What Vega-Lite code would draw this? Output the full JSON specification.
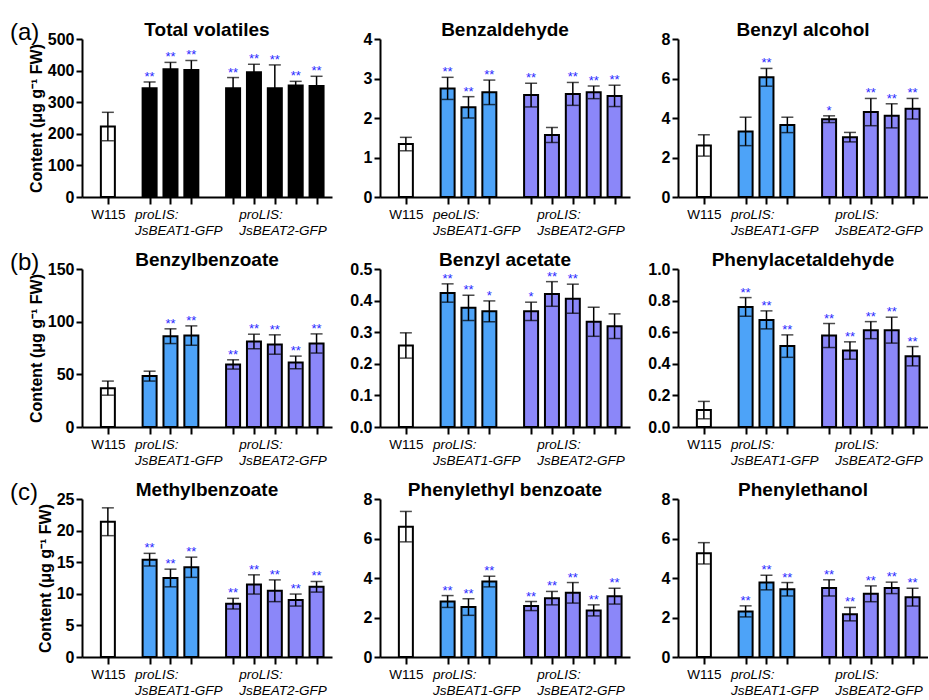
{
  "$schema": "https://vega.github.io/schema/vega-lite/v6.json",
  "padding": {"left": 10, "top": 21, "right": 0, "bottom": 0},
  "datasets": {
    "d": [
      {"compound": "Total volatiles", "pos": 0, "mean": 223, "lo": 178, "hi": 268, "sig": ""},
      {"compound": "Total volatiles", "pos": 2, "mean": 344, "lo": 324, "hi": 364, "sig": "**"},
      {"compound": "Total volatiles", "pos": 3, "mean": 404, "lo": 382, "hi": 426, "sig": "**"},
      {"compound": "Total volatiles", "pos": 4, "mean": 402, "lo": 372, "hi": 432, "sig": "**"},
      {"compound": "Total volatiles", "pos": 6, "mean": 344, "lo": 310, "hi": 378, "sig": "**"},
      {"compound": "Total volatiles", "pos": 7, "mean": 395, "lo": 370, "hi": 420, "sig": "**"},
      {"compound": "Total volatiles", "pos": 8, "mean": 344, "lo": 270, "hi": 418, "sig": "**"},
      {"compound": "Total volatiles", "pos": 9, "mean": 353, "lo": 340, "hi": 366, "sig": "**"},
      {"compound": "Total volatiles", "pos": 10, "mean": 351, "lo": 320, "hi": 382, "sig": "**"},
      {"compound": "Benzaldehyde", "pos": 0, "mean": 1.34, "lo": 1.17, "hi": 1.51, "sig": ""},
      {"compound": "Benzaldehyde", "pos": 2, "mean": 2.75, "lo": 2.47, "hi": 3.03, "sig": "**"},
      {"compound": "Benzaldehyde", "pos": 3, "mean": 2.27, "lo": 2.0, "hi": 2.54, "sig": "**"},
      {"compound": "Benzaldehyde", "pos": 4, "mean": 2.65, "lo": 2.34, "hi": 2.96, "sig": "**"},
      {"compound": "Benzaldehyde", "pos": 6, "mean": 2.58, "lo": 2.28, "hi": 2.88, "sig": "**"},
      {"compound": "Benzaldehyde", "pos": 7, "mean": 1.57, "lo": 1.38, "hi": 1.76, "sig": ""},
      {"compound": "Benzaldehyde", "pos": 8, "mean": 2.61, "lo": 2.32, "hi": 2.9, "sig": "**"},
      {"compound": "Benzaldehyde", "pos": 9, "mean": 2.65, "lo": 2.49, "hi": 2.81, "sig": "**"},
      {"compound": "Benzaldehyde", "pos": 10, "mean": 2.56, "lo": 2.29, "hi": 2.83, "sig": "**"},
      {"compound": "Benzyl alcohol", "pos": 0, "mean": 2.61, "lo": 2.07, "hi": 3.15, "sig": ""},
      {"compound": "Benzyl alcohol", "pos": 2, "mean": 3.32, "lo": 2.6, "hi": 4.04, "sig": ""},
      {"compound": "Benzyl alcohol", "pos": 3, "mean": 6.06, "lo": 5.61, "hi": 6.51, "sig": "**"},
      {"compound": "Benzyl alcohol", "pos": 4, "mean": 3.65, "lo": 3.26, "hi": 4.04, "sig": ""},
      {"compound": "Benzyl alcohol", "pos": 6, "mean": 3.94, "lo": 3.77, "hi": 4.11, "sig": "*"},
      {"compound": "Benzyl alcohol", "pos": 7, "mean": 3.03, "lo": 2.79, "hi": 3.27, "sig": ""},
      {"compound": "Benzyl alcohol", "pos": 8, "mean": 4.3, "lo": 3.61, "hi": 4.99, "sig": "**"},
      {"compound": "Benzyl alcohol", "pos": 9, "mean": 4.11, "lo": 3.5, "hi": 4.72, "sig": "**"},
      {"compound": "Benzyl alcohol", "pos": 10, "mean": 4.47, "lo": 3.95, "hi": 4.99, "sig": "**"},
      {"compound": "Benzylbenzoate", "pos": 0, "mean": 36.9, "lo": 30.2, "hi": 43.6, "sig": ""},
      {"compound": "Benzylbenzoate", "pos": 2, "mean": 48.3, "lo": 43.6, "hi": 53.0, "sig": ""},
      {"compound": "Benzylbenzoate", "pos": 3, "mean": 86.2, "lo": 79.2, "hi": 93.2, "sig": "**"},
      {"compound": "Benzylbenzoate", "pos": 4, "mean": 86.8, "lo": 77.6, "hi": 96.0, "sig": "**"},
      {"compound": "Benzylbenzoate", "pos": 6, "mean": 59.4, "lo": 55.0, "hi": 63.8, "sig": "**"},
      {"compound": "Benzylbenzoate", "pos": 7, "mean": 81.2, "lo": 74.3, "hi": 88.1, "sig": "**"},
      {"compound": "Benzylbenzoate", "pos": 8, "mean": 78.3, "lo": 69.1, "hi": 87.5, "sig": "**"},
      {"compound": "Benzylbenzoate", "pos": 9, "mean": 61.3, "lo": 55.3, "hi": 67.3, "sig": "**"},
      {"compound": "Benzylbenzoate", "pos": 10, "mean": 79.3, "lo": 70.2, "hi": 88.4, "sig": "**"},
      {"compound": "Benzyl acetate", "pos": 0, "mean": 0.258, "lo": 0.218, "hi": 0.298, "sig": ""},
      {"compound": "Benzyl acetate", "pos": 2, "mean": 0.424, "lo": 0.395, "hi": 0.453, "sig": "**"},
      {"compound": "Benzyl acetate", "pos": 3, "mean": 0.377, "lo": 0.337, "hi": 0.417, "sig": "**"},
      {"compound": "Benzyl acetate", "pos": 4, "mean": 0.366, "lo": 0.333, "hi": 0.399, "sig": "*"},
      {"compound": "Benzyl acetate", "pos": 6, "mean": 0.366, "lo": 0.337, "hi": 0.395, "sig": "*"},
      {"compound": "Benzyl acetate", "pos": 7, "mean": 0.421, "lo": 0.382, "hi": 0.46, "sig": "**"},
      {"compound": "Benzyl acetate", "pos": 8, "mean": 0.406, "lo": 0.36, "hi": 0.452, "sig": "**"},
      {"compound": "Benzyl acetate", "pos": 9, "mean": 0.333, "lo": 0.287, "hi": 0.379, "sig": ""},
      {"compound": "Benzyl acetate", "pos": 10, "mean": 0.319, "lo": 0.28, "hi": 0.358, "sig": ""},
      {"compound": "Phenylacetaldehyde", "pos": 0, "mean": 0.107, "lo": 0.052, "hi": 0.162, "sig": ""},
      {"compound": "Phenylacetaldehyde", "pos": 2, "mean": 0.76, "lo": 0.701, "hi": 0.819, "sig": "**"},
      {"compound": "Phenylacetaldehyde", "pos": 3, "mean": 0.678, "lo": 0.621, "hi": 0.735, "sig": "**"},
      {"compound": "Phenylacetaldehyde", "pos": 4, "mean": 0.512, "lo": 0.441, "hi": 0.583, "sig": "**"},
      {"compound": "Phenylacetaldehyde", "pos": 6, "mean": 0.579, "lo": 0.503, "hi": 0.655, "sig": "**"},
      {"compound": "Phenylacetaldehyde", "pos": 7, "mean": 0.484, "lo": 0.429, "hi": 0.539, "sig": "**"},
      {"compound": "Phenylacetaldehyde", "pos": 8, "mean": 0.613, "lo": 0.559, "hi": 0.667, "sig": "**"},
      {"compound": "Phenylacetaldehyde", "pos": 9, "mean": 0.613, "lo": 0.531, "hi": 0.695, "sig": "**"},
      {"compound": "Phenylacetaldehyde", "pos": 10, "mean": 0.448, "lo": 0.387, "hi": 0.509, "sig": "**"},
      {"compound": "Methylbenzoate", "pos": 0, "mean": 21.4, "lo": 19.2, "hi": 23.6, "sig": ""},
      {"compound": "Methylbenzoate", "pos": 2, "mean": 15.4, "lo": 14.4, "hi": 16.4, "sig": "**"},
      {"compound": "Methylbenzoate", "pos": 3, "mean": 12.5, "lo": 11.1, "hi": 13.9, "sig": "**"},
      {"compound": "Methylbenzoate", "pos": 4, "mean": 14.2, "lo": 12.6, "hi": 15.8, "sig": "**"},
      {"compound": "Methylbenzoate", "pos": 6, "mean": 8.44, "lo": 7.6, "hi": 9.28, "sig": "**"},
      {"compound": "Methylbenzoate", "pos": 7, "mean": 11.48, "lo": 9.96, "hi": 13.0, "sig": "**"},
      {"compound": "Methylbenzoate", "pos": 8, "mean": 10.48, "lo": 8.76, "hi": 12.2, "sig": "**"},
      {"compound": "Methylbenzoate", "pos": 9, "mean": 9.01, "lo": 8.06, "hi": 9.96, "sig": "**"},
      {"compound": "Methylbenzoate", "pos": 10, "mean": 11.11, "lo": 10.27, "hi": 11.95, "sig": "**"},
      {"compound": "Phenylethyl benzoate", "pos": 0, "mean": 6.6, "lo": 5.83, "hi": 7.37, "sig": ""},
      {"compound": "Phenylethyl benzoate", "pos": 2, "mean": 2.81, "lo": 2.51, "hi": 3.11, "sig": "**"},
      {"compound": "Phenylethyl benzoate", "pos": 3, "mean": 2.53, "lo": 2.11, "hi": 2.95, "sig": "**"},
      {"compound": "Phenylethyl benzoate", "pos": 4, "mean": 3.82, "lo": 3.55, "hi": 4.09, "sig": "**"},
      {"compound": "Phenylethyl benzoate", "pos": 6, "mean": 2.58, "lo": 2.35, "hi": 2.81, "sig": "**"},
      {"compound": "Phenylethyl benzoate", "pos": 7, "mean": 2.98, "lo": 2.64, "hi": 3.32, "sig": "**"},
      {"compound": "Phenylethyl benzoate", "pos": 8, "mean": 3.25, "lo": 2.73, "hi": 3.77, "sig": "**"},
      {"compound": "Phenylethyl benzoate", "pos": 9, "mean": 2.36, "lo": 2.08, "hi": 2.64, "sig": "**"},
      {"compound": "Phenylethyl benzoate", "pos": 10, "mean": 3.08, "lo": 2.68, "hi": 3.48, "sig": "**"},
      {"compound": "Phenylethanol", "pos": 0, "mean": 5.25, "lo": 4.71, "hi": 5.79, "sig": ""},
      {"compound": "Phenylethanol", "pos": 2, "mean": 2.31, "lo": 2.03, "hi": 2.59, "sig": "**"},
      {"compound": "Phenylethanol", "pos": 3, "mean": 3.77, "lo": 3.4, "hi": 4.14, "sig": "**"},
      {"compound": "Phenylethanol", "pos": 4, "mean": 3.43, "lo": 3.09, "hi": 3.77, "sig": "**"},
      {"compound": "Phenylethanol", "pos": 6, "mean": 3.5, "lo": 3.09, "hi": 3.91, "sig": "**"},
      {"compound": "Phenylethanol", "pos": 7, "mean": 2.17, "lo": 1.83, "hi": 2.51, "sig": "**"},
      {"compound": "Phenylethanol", "pos": 8, "mean": 3.2, "lo": 2.8, "hi": 3.6, "sig": "**"},
      {"compound": "Phenylethanol", "pos": 9, "mean": 3.5, "lo": 3.21, "hi": 3.79, "sig": "**"},
      {"compound": "Phenylethanol", "pos": 10, "mean": 3.03, "lo": 2.58, "hi": 3.48, "sig": "**"}
    ]
  },
  "data": {"name": "d"},
  "vconcat": [
    {
      "title": {"text": "(a)", "anchor": "start", "frame": "group", "fontSize": 24, "fontWeight": "normal", "dx": -72, "offset": -24},
      "spacing": 48, "bounds": "flush",
      "hconcat": [
        {
          "title": "Total volatiles", "width": 250, "height": 158,
          "transform": [{"filter": "datum.compound == 'Total volatiles'"}],
          "encoding": {"x": {"field": "pos", "type": "quantitative", "scale": {"domain": [-1, 10.5]}, "axis": {"values": [0, 2, 3, 4, 6, 7, 8, 9, 10], "title": null, "labelExpr": "datum.value == 0 ? 'W115' : datum.value == 3 ? ['proLIS:', 'JsBEAT1-GFP'] : datum.value == 8 ? ['proLIS:', 'JsBEAT2-GFP'] : ''", "labelAlign": {"condition": {"test": "datum.value == 0", "value": "center"}, "value": "left"}, "labelOffset": {"condition": {"test": "datum.value == 0", "value": 0}, "value": -36}, "labelFontStyle": {"condition": {"test": "datum.value == 0", "value": "normal"}, "value": "italic"}}}},
          "layer": [
            {"mark": {"type": "bar", "orient": "vertical", "size": 14, "stroke": "black", "strokeWidth": 2},
             "encoding": {"y": {"field": "mean", "type": "quantitative", "title": "Content (μg g⁻¹ FW)", "scale": {"domain": [0, 500], "nice": false}, "axis": {"values": [0, 100, 200, 300, 400, 500]}},
                          "fill": {"condition": {"test": "datum.pos == 0", "value": "white"}, "value": "black"}}},
            {"mark": {"type": "errorbar", "ticks": {"size": 12}, "thickness": 1.5, "color": "black"},
             "encoding": {"y": {"field": "lo", "type": "quantitative", "title": "Content (μg g⁻¹ FW)", "scale": {"domain": [0, 500], "nice": false}, "axis": {"values": [0, 100, 200, 300, 400, 500]}}, "y2": {"field": "hi"}}},
            {"mark": {"type": "text", "color": "#2a2aff", "fontSize": 13, "dy": -1, "baseline": "alphabetic"},
             "encoding": {"y": {"field": "hi", "type": "quantitative", "title": "Content (μg g⁻¹ FW)", "scale": {"domain": [0, 500], "nice": false}, "axis": {"values": [0, 100, 200, 300, 400, 500]}}, "text": {"field": "sig"}}}
          ]
        },
        {
          "title": "Benzaldehyde", "width": 250, "height": 158,
          "transform": [{"filter": "datum.compound == 'Benzaldehyde'"}],
          "encoding": {"x": {"field": "pos", "type": "quantitative", "scale": {"domain": [-1, 10.5]}, "axis": {"values": [0, 2, 3, 4, 6, 7, 8, 9, 10], "title": null, "labelExpr": "datum.value == 0 ? 'W115' : datum.value == 3 ? ['peoLIS:', 'JsBEAT1-GFP'] : datum.value == 8 ? ['proLIS:', 'JsBEAT2-GFP'] : ''", "labelAlign": {"condition": {"test": "datum.value == 0", "value": "center"}, "value": "left"}, "labelOffset": {"condition": {"test": "datum.value == 0", "value": 0}, "value": -36}, "labelFontStyle": {"condition": {"test": "datum.value == 0", "value": "normal"}, "value": "italic"}}}},
          "layer": [
            {"mark": {"type": "bar", "orient": "vertical", "size": 14, "stroke": "black", "strokeWidth": 2},
             "encoding": {"y": {"field": "mean", "type": "quantitative", "title": null, "scale": {"domain": [0, 4], "nice": false}, "axis": {"values": [0, 1, 2, 3, 4]}},
                          "fill": {"condition": [{"test": "datum.pos == 0", "value": "white"}, {"test": "datum.pos < 5", "value": "#4da3f8"}], "value": "#8b87f9"}}},
            {"mark": {"type": "errorbar", "ticks": {"size": 12}, "thickness": 1.5, "color": "black"},
             "encoding": {"y": {"field": "lo", "type": "quantitative", "title": null, "scale": {"domain": [0, 4], "nice": false}, "axis": {"values": [0, 1, 2, 3, 4]}}, "y2": {"field": "hi"}}},
            {"mark": {"type": "text", "color": "#2a2aff", "fontSize": 13, "dy": -1, "baseline": "alphabetic"},
             "encoding": {"y": {"field": "hi", "type": "quantitative", "title": null, "scale": {"domain": [0, 4], "nice": false}, "axis": {"values": [0, 1, 2, 3, 4]}}, "text": {"field": "sig"}}}
          ]
        },
        {
          "title": "Benzyl alcohol", "width": 250, "height": 158,
          "transform": [{"filter": "datum.compound == 'Benzyl alcohol'"}],
          "encoding": {"x": {"field": "pos", "type": "quantitative", "scale": {"domain": [-1, 10.5]}, "axis": {"values": [0, 2, 3, 4, 6, 7, 8, 9, 10], "title": null, "labelExpr": "datum.value == 0 ? 'W115' : datum.value == 3 ? ['proLIS:', 'JsBEAT1-GFP'] : datum.value == 8 ? ['proLIS:', 'JsBEAT2-GFP'] : ''", "labelAlign": {"condition": {"test": "datum.value == 0", "value": "center"}, "value": "left"}, "labelOffset": {"condition": {"test": "datum.value == 0", "value": 0}, "value": -36}, "labelFontStyle": {"condition": {"test": "datum.value == 0", "value": "normal"}, "value": "italic"}}}},
          "layer": [
            {"mark": {"type": "bar", "orient": "vertical", "size": 14, "stroke": "black", "strokeWidth": 2},
             "encoding": {"y": {"field": "mean", "type": "quantitative", "title": null, "scale": {"domain": [0, 8], "nice": false}, "axis": {"values": [0, 2, 4, 6, 8]}},
                          "fill": {"condition": [{"test": "datum.pos == 0", "value": "white"}, {"test": "datum.pos < 5", "value": "#4da3f8"}], "value": "#8b87f9"}}},
            {"mark": {"type": "errorbar", "ticks": {"size": 12}, "thickness": 1.5, "color": "black"},
             "encoding": {"y": {"field": "lo", "type": "quantitative", "title": null, "scale": {"domain": [0, 8], "nice": false}, "axis": {"values": [0, 2, 4, 6, 8]}}, "y2": {"field": "hi"}}},
            {"mark": {"type": "text", "color": "#2a2aff", "fontSize": 13, "dy": -1, "baseline": "alphabetic"},
             "encoding": {"y": {"field": "hi", "type": "quantitative", "title": null, "scale": {"domain": [0, 8], "nice": false}, "axis": {"values": [0, 2, 4, 6, 8]}}, "text": {"field": "sig"}}}
          ]
        }
      ]
    },
    {
      "title": {"text": "(b)", "anchor": "start", "frame": "group", "fontSize": 24, "fontWeight": "normal", "dx": -72, "offset": -24},
      "spacing": 48, "bounds": "flush",
      "hconcat": [
        {
          "title": "Benzylbenzoate", "width": 250, "height": 158,
          "transform": [{"filter": "datum.compound == 'Benzylbenzoate'"}],
          "encoding": {"x": {"field": "pos", "type": "quantitative", "scale": {"domain": [-1, 10.5]}, "axis": {"values": [0, 2, 3, 4, 6, 7, 8, 9, 10], "title": null, "labelExpr": "datum.value == 0 ? 'W115' : datum.value == 3 ? ['proLIS:', 'JsBEAT1-GFP'] : datum.value == 8 ? ['proLIS:', 'JsBEAT2-GFP'] : ''", "labelAlign": {"condition": {"test": "datum.value == 0", "value": "center"}, "value": "left"}, "labelOffset": {"condition": {"test": "datum.value == 0", "value": 0}, "value": -36}, "labelFontStyle": {"condition": {"test": "datum.value == 0", "value": "normal"}, "value": "italic"}}}},
          "layer": [
            {"mark": {"type": "bar", "orient": "vertical", "size": 14, "stroke": "black", "strokeWidth": 2},
             "encoding": {"y": {"field": "mean", "type": "quantitative", "title": "Content (μg g⁻¹ FW)", "scale": {"domain": [0, 150], "nice": false}, "axis": {"values": [0, 50, 100, 150]}},
                          "fill": {"condition": [{"test": "datum.pos == 0", "value": "white"}, {"test": "datum.pos < 5", "value": "#4da3f8"}], "value": "#8b87f9"}}},
            {"mark": {"type": "errorbar", "ticks": {"size": 12}, "thickness": 1.5, "color": "black"},
             "encoding": {"y": {"field": "lo", "type": "quantitative", "title": "Content (μg g⁻¹ FW)", "scale": {"domain": [0, 150], "nice": false}, "axis": {"values": [0, 50, 100, 150]}}, "y2": {"field": "hi"}}},
            {"mark": {"type": "text", "color": "#2a2aff", "fontSize": 13, "dy": -1, "baseline": "alphabetic"},
             "encoding": {"y": {"field": "hi", "type": "quantitative", "title": "Content (μg g⁻¹ FW)", "scale": {"domain": [0, 150], "nice": false}, "axis": {"values": [0, 50, 100, 150]}}, "text": {"field": "sig"}}}
          ]
        },
        {
          "title": "Benzyl acetate", "width": 250, "height": 158,
          "transform": [{"filter": "datum.compound == 'Benzyl acetate'"}],
          "encoding": {"x": {"field": "pos", "type": "quantitative", "scale": {"domain": [-1, 10.5]}, "axis": {"values": [0, 2, 3, 4, 6, 7, 8, 9, 10], "title": null, "labelExpr": "datum.value == 0 ? 'W115' : datum.value == 3 ? ['proLIS:', 'JsBEAT1-GFP'] : datum.value == 8 ? ['proLIS:', 'JsBEAT2-GFP'] : ''", "labelAlign": {"condition": {"test": "datum.value == 0", "value": "center"}, "value": "left"}, "labelOffset": {"condition": {"test": "datum.value == 0", "value": 0}, "value": -36}, "labelFontStyle": {"condition": {"test": "datum.value == 0", "value": "normal"}, "value": "italic"}}}},
          "layer": [
            {"mark": {"type": "bar", "orient": "vertical", "size": 14, "stroke": "black", "strokeWidth": 2},
             "encoding": {"y": {"field": "mean", "type": "quantitative", "title": null, "scale": {"domain": [0, 0.5], "nice": false}, "axis": {"values": [0, 0.1, 0.2, 0.3, 0.4, 0.5], "format": ".1f"}},
                          "fill": {"condition": [{"test": "datum.pos == 0", "value": "white"}, {"test": "datum.pos < 5", "value": "#4da3f8"}], "value": "#8b87f9"}}},
            {"mark": {"type": "errorbar", "ticks": {"size": 12}, "thickness": 1.5, "color": "black"},
             "encoding": {"y": {"field": "lo", "type": "quantitative", "title": null, "scale": {"domain": [0, 0.5], "nice": false}, "axis": {"values": [0, 0.1, 0.2, 0.3, 0.4, 0.5], "format": ".1f"}}, "y2": {"field": "hi"}}},
            {"mark": {"type": "text", "color": "#2a2aff", "fontSize": 13, "dy": -1, "baseline": "alphabetic"},
             "encoding": {"y": {"field": "hi", "type": "quantitative", "title": null, "scale": {"domain": [0, 0.5], "nice": false}, "axis": {"values": [0, 0.1, 0.2, 0.3, 0.4, 0.5], "format": ".1f"}}, "text": {"field": "sig"}}}
          ]
        },
        {
          "title": "Phenylacetaldehyde", "width": 250, "height": 158,
          "transform": [{"filter": "datum.compound == 'Phenylacetaldehyde'"}],
          "encoding": {"x": {"field": "pos", "type": "quantitative", "scale": {"domain": [-1, 10.5]}, "axis": {"values": [0, 2, 3, 4, 6, 7, 8, 9, 10], "title": null, "labelExpr": "datum.value == 0 ? 'W115' : datum.value == 3 ? ['proLIS:', 'JsBEAT1-GFP'] : datum.value == 8 ? ['proLIS:', 'JsBEAT2-GFP'] : ''", "labelAlign": {"condition": {"test": "datum.value == 0", "value": "center"}, "value": "left"}, "labelOffset": {"condition": {"test": "datum.value == 0", "value": 0}, "value": -36}, "labelFontStyle": {"condition": {"test": "datum.value == 0", "value": "normal"}, "value": "italic"}}}},
          "layer": [
            {"mark": {"type": "bar", "orient": "vertical", "size": 14, "stroke": "black", "strokeWidth": 2},
             "encoding": {"y": {"field": "mean", "type": "quantitative", "title": null, "scale": {"domain": [0, 1], "nice": false}, "axis": {"values": [0, 0.2, 0.4, 0.6, 0.8, 1.0], "format": ".1f"}},
                          "fill": {"condition": [{"test": "datum.pos == 0", "value": "white"}, {"test": "datum.pos < 5", "value": "#4da3f8"}], "value": "#8b87f9"}}},
            {"mark": {"type": "errorbar", "ticks": {"size": 12}, "thickness": 1.5, "color": "black"},
             "encoding": {"y": {"field": "lo", "type": "quantitative", "title": null, "scale": {"domain": [0, 1], "nice": false}, "axis": {"values": [0, 0.2, 0.4, 0.6, 0.8, 1.0], "format": ".1f"}}, "y2": {"field": "hi"}}},
            {"mark": {"type": "text", "color": "#2a2aff", "fontSize": 13, "dy": -1, "baseline": "alphabetic"},
             "encoding": {"y": {"field": "hi", "type": "quantitative", "title": null, "scale": {"domain": [0, 1], "nice": false}, "axis": {"values": [0, 0.2, 0.4, 0.6, 0.8, 1.0], "format": ".1f"}}, "text": {"field": "sig"}}}
          ]
        }
      ]
    },
    {
      "title": {"text": "(c)", "anchor": "start", "frame": "group", "fontSize": 24, "fontWeight": "normal", "dx": -72, "offset": -24},
      "spacing": 48, "bounds": "flush",
      "hconcat": [
        {
          "title": "Methylbenzoate", "width": 250, "height": 158,
          "transform": [{"filter": "datum.compound == 'Methylbenzoate'"}],
          "encoding": {"x": {"field": "pos", "type": "quantitative", "scale": {"domain": [-1, 10.5]}, "axis": {"values": [0, 2, 3, 4, 6, 7, 8, 9, 10], "title": null, "labelExpr": "datum.value == 0 ? 'W115' : datum.value == 3 ? ['proLIS:', 'JsBEAT1-GFP'] : datum.value == 8 ? ['proLIS:', 'JsBEAT2-GFP'] : ''", "labelAlign": {"condition": {"test": "datum.value == 0", "value": "center"}, "value": "left"}, "labelOffset": {"condition": {"test": "datum.value == 0", "value": 0}, "value": -36}, "labelFontStyle": {"condition": {"test": "datum.value == 0", "value": "normal"}, "value": "italic"}}}},
          "layer": [
            {"mark": {"type": "bar", "orient": "vertical", "size": 14, "stroke": "black", "strokeWidth": 2},
             "encoding": {"y": {"field": "mean", "type": "quantitative", "title": "Content (μg g⁻¹ FW)", "scale": {"domain": [0, 25], "nice": false}, "axis": {"values": [0, 5, 10, 15, 20, 25]}},
                          "fill": {"condition": [{"test": "datum.pos == 0", "value": "white"}, {"test": "datum.pos < 5", "value": "#4da3f8"}], "value": "#8b87f9"}}},
            {"mark": {"type": "errorbar", "ticks": {"size": 12}, "thickness": 1.5, "color": "black"},
             "encoding": {"y": {"field": "lo", "type": "quantitative", "title": "Content (μg g⁻¹ FW)", "scale": {"domain": [0, 25], "nice": false}, "axis": {"values": [0, 5, 10, 15, 20, 25]}}, "y2": {"field": "hi"}}},
            {"mark": {"type": "text", "color": "#2a2aff", "fontSize": 13, "dy": -1, "baseline": "alphabetic"},
             "encoding": {"y": {"field": "hi", "type": "quantitative", "title": "Content (μg g⁻¹ FW)", "scale": {"domain": [0, 25], "nice": false}, "axis": {"values": [0, 5, 10, 15, 20, 25]}}, "text": {"field": "sig"}}}
          ]
        },
        {
          "title": "Phenylethyl benzoate", "width": 250, "height": 158,
          "transform": [{"filter": "datum.compound == 'Phenylethyl benzoate'"}],
          "encoding": {"x": {"field": "pos", "type": "quantitative", "scale": {"domain": [-1, 10.5]}, "axis": {"values": [0, 2, 3, 4, 6, 7, 8, 9, 10], "title": null, "labelExpr": "datum.value == 0 ? 'W115' : datum.value == 3 ? ['proLIS:', 'JsBEAT1-GFP'] : datum.value == 8 ? ['proLIS:', 'JsBEAT2-GFP'] : ''", "labelAlign": {"condition": {"test": "datum.value == 0", "value": "center"}, "value": "left"}, "labelOffset": {"condition": {"test": "datum.value == 0", "value": 0}, "value": -36}, "labelFontStyle": {"condition": {"test": "datum.value == 0", "value": "normal"}, "value": "italic"}}}},
          "layer": [
            {"mark": {"type": "bar", "orient": "vertical", "size": 14, "stroke": "black", "strokeWidth": 2},
             "encoding": {"y": {"field": "mean", "type": "quantitative", "title": null, "scale": {"domain": [0, 8], "nice": false}, "axis": {"values": [0, 2, 4, 6, 8]}},
                          "fill": {"condition": [{"test": "datum.pos == 0", "value": "white"}, {"test": "datum.pos < 5", "value": "#4da3f8"}], "value": "#8b87f9"}}},
            {"mark": {"type": "errorbar", "ticks": {"size": 12}, "thickness": 1.5, "color": "black"},
             "encoding": {"y": {"field": "lo", "type": "quantitative", "title": null, "scale": {"domain": [0, 8], "nice": false}, "axis": {"values": [0, 2, 4, 6, 8]}}, "y2": {"field": "hi"}}},
            {"mark": {"type": "text", "color": "#2a2aff", "fontSize": 13, "dy": -1, "baseline": "alphabetic"},
             "encoding": {"y": {"field": "hi", "type": "quantitative", "title": null, "scale": {"domain": [0, 8], "nice": false}, "axis": {"values": [0, 2, 4, 6, 8]}}, "text": {"field": "sig"}}}
          ]
        },
        {
          "title": "Phenylethanol", "width": 250, "height": 158,
          "transform": [{"filter": "datum.compound == 'Phenylethanol'"}],
          "encoding": {"x": {"field": "pos", "type": "quantitative", "scale": {"domain": [-1, 10.5]}, "axis": {"values": [0, 2, 3, 4, 6, 7, 8, 9, 10], "title": null, "labelExpr": "datum.value == 0 ? 'W115' : datum.value == 3 ? ['proLIS:', 'JsBEAT1-GFP'] : datum.value == 8 ? ['proLIS:', 'JsBEAT2-GFP'] : ''", "labelAlign": {"condition": {"test": "datum.value == 0", "value": "center"}, "value": "left"}, "labelOffset": {"condition": {"test": "datum.value == 0", "value": 0}, "value": -36}, "labelFontStyle": {"condition": {"test": "datum.value == 0", "value": "normal"}, "value": "italic"}}}},
          "layer": [
            {"mark": {"type": "bar", "orient": "vertical", "size": 14, "stroke": "black", "strokeWidth": 2},
             "encoding": {"y": {"field": "mean", "type": "quantitative", "title": null, "scale": {"domain": [0, 8], "nice": false}, "axis": {"values": [0, 2, 4, 6, 8]}},
                          "fill": {"condition": [{"test": "datum.pos == 0", "value": "white"}, {"test": "datum.pos < 5", "value": "#4da3f8"}], "value": "#8b87f9"}}},
            {"mark": {"type": "errorbar", "ticks": {"size": 12}, "thickness": 1.5, "color": "black"},
             "encoding": {"y": {"field": "lo", "type": "quantitative", "title": null, "scale": {"domain": [0, 8], "nice": false}, "axis": {"values": [0, 2, 4, 6, 8]}}, "y2": {"field": "hi"}}},
            {"mark": {"type": "text", "color": "#2a2aff", "fontSize": 13, "dy": -1, "baseline": "alphabetic"},
             "encoding": {"y": {"field": "hi", "type": "quantitative", "title": null, "scale": {"domain": [0, 8], "nice": false}, "axis": {"values": [0, 2, 4, 6, 8]}}, "text": {"field": "sig"}}}
          ]
        }
      ]
    }
  ],
  "spacing": 14,
  "config": {
    "font": "Liberation Sans",
    "view": {"stroke": null},
    "axis": {"domainColor": "black", "domainWidth": 2, "tickColor": "black", "tickWidth": 2, "labelColor": "black", "titleColor": "black", "grid": false},
    "axisY": {"tickSize": 6, "labelFontSize": 16, "labelFontWeight": "bold", "labelPadding": 2, "titleFontSize": 16, "titleFontWeight": "bold", "titlePadding": 3},
    "axisX": {"tickSize": 7, "labelFontSize": 13.5, "labelPadding": 3, "labelLineHeight": 16, "labelOverlap": false, "labelFlush": false},
    "title": {"fontSize": 19, "fontWeight": "bold", "color": "black", "offset": -9}
  }
}
